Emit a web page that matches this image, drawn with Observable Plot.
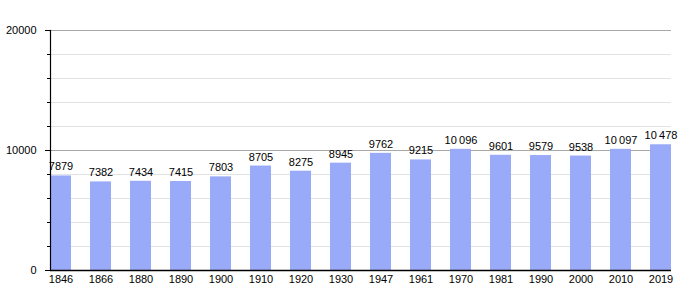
<!DOCTYPE html>
<html>
<head>
<meta charset="utf-8">
<script src="https://cdn.jsdelivr.net/npm/d3@7"></script>
<script src="https://cdn.jsdelivr.net/npm/@observablehq/plot@0.6"></script>
<style>
  html, body { margin: 0; padding: 0; background: #fff; }
  svg { font-family: "Liberation Sans", Arial, sans-serif; }
</style>
</head>
<body>
<div id="chart"></div>
<script>
const years = ["1846","1866","1880","1890","1900","1910","1920","1930","1947","1961","1970","1981","1990","2000","2010","2019"];
const population = [7879,7382,7434,7415,7803,8705,8275,8945,9762,9215,10096,9601,9579,9538,10097,10478];
const majorTicks = [0, 10000, 20000];
const minorTicks = [2000, 4000, 6000, 8000, 12000, 14000, 16000, 18000];

const data = years.map((y, i) => ({year: y, value: population[i]}));
const fmt = v => v >= 10000 ? d3.format(",")(v).replace(/,/g, "\u2009") : String(v);

const chart = Plot.plot({
  width: 700,
  height: 300,
  marginLeft: 50,
  marginRight: 29,
  marginTop: 30,
  marginBottom: 30,
  style: {fontFamily: "Liberation Sans, Arial, sans-serif", fontSize: "11px", color: "#000", background: "#fff"},
  x: {domain: years, paddingInner: 0.475, paddingOuter: 0, align: 0, label: null},
  y: {domain: [0, 20000], label: null},
  marks: [
    Plot.ruleY(minorTicks, {stroke: "#e2e2e2", strokeWidth: 1}),
    Plot.ruleY(majorTicks.filter(d => d > 0), {stroke: "#a8a8a8", strokeWidth: 1}),
    Plot.barY(data, {x: "year", y: "value", fill: "#99aaf9"}),
    Plot.text(data, {x: "year", y: "value", text: d => fmt(d.value), dy: -9, fill: "#000", fontSize: 11}),
    Plot.axisY(minorTicks, {tickSize: 3, tickFormat: () => "", stroke: "#000"}),
    Plot.axisY(majorTicks, {tickSize: 5, tickPadding: 9, tickFormat: d => String(d), fontSize: 11, stroke: "#000", fill: "#000"}),
    Plot.axisX({tickSize: 0, tickPadding: 5, fontSize: 11, fill: "#000"}),
    Plot.frame({anchor: "left", stroke: "#000", strokeWidth: 1.2}),
    Plot.ruleY([0], {stroke: "#000", strokeWidth: 1.5})
  ]
});
document.getElementById("chart").appendChild(chart);
</script>
</body>
</html>
